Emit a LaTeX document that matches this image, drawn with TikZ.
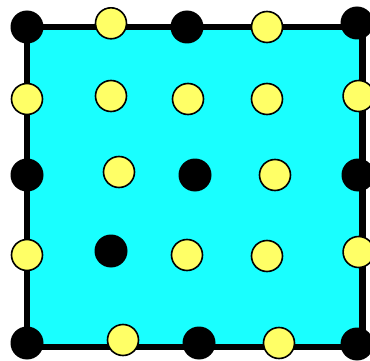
\documentclass[tikz,border=0pt]{standalone}
\definecolor{boxcyan}{RGB}{25,255,255}
\definecolor{dotyellow}{RGB}{255,255,102}
\tikzset{
  bdot/.style={circle,fill=black,draw=none,minimum size=33pt,inner sep=0pt},
  ydot/.style={circle,fill=dotyellow,draw=black,line width=1.6pt,minimum size=31pt,inner sep=0pt},
  frame/.style={fill=boxcyan,draw=black,line width=6.7pt}
}
\begin{document}
\begin{tikzpicture}[x=1pt,y=-1pt]
\useasboundingbox (0,0) rectangle (370,361);
\draw[frame] (27,27) rectangle (362.7,347);
% black dots
\node[bdot] (b1) at (27,27) {};
\node[bdot] (b2) at (187,27) {};
\node[bdot] (b3) at (357,23) {};
\node[bdot] (b4) at (27,175) {};
\node[bdot] (b5) at (195,175) {};
\node[bdot] (b6) at (358,175) {};
\node[bdot] (b7) at (27,343) {};
\node[bdot] (b8) at (199,343) {};
\node[bdot] (b9) at (357,344) {};
\node[bdot] (b10) at (111,251) {};
% yellow dots
\node[ydot] (y1) at (111,23.3) {};
\node[ydot] (y2) at (267,27) {};
\node[ydot] (y3) at (27,99) {};
\node[ydot] (y4) at (111,96) {};
\node[ydot] (y5) at (188,99) {};
\node[ydot] (y6) at (267,99) {};
\node[ydot] (y7) at (358.6,96) {};
\node[ydot] (y8) at (119,172) {};
\node[ydot] (y9) at (275,175) {};
\node[ydot] (y10) at (27,255) {};
\node[ydot] (y11) at (187,255) {};
\node[ydot] (y12) at (267,256) {};
\node[ydot] (y13) at (358.6,252) {};
\node[ydot] (y14) at (123,340) {};
\node[ydot] (y15) at (279,343) {};
\end{tikzpicture}
\end{document}
